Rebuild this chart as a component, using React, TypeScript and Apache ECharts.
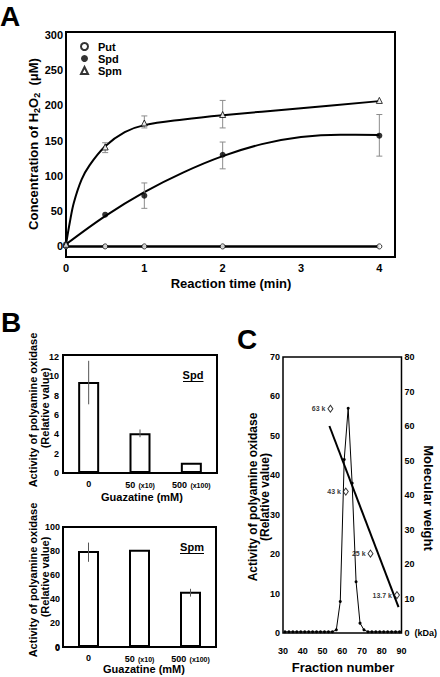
import React, { useEffect, useRef } from 'react';
import * as echarts from 'echarts';

// ---------- Panel A data ----------
const reactionTimes = [0, 0.5, 1, 2, 4];
const putValues = [0, 0, 0, 0, 0];
const spdValues = [3, 45, 72, 130, 157];
const spdErrLow = [NaN, NaN, 54, 110, 128];
const spdErrHigh = [NaN, NaN, 90, 148, 187];
const spmValues = [3, 141, 175, 187, 207];
const spmErrLow = [NaN, 133, 168, 168, NaN];
const spmErrHigh = [NaN, 147, 185, 207, NaN];
const spdFitTimes = [0, 0.5, 1, 1.5, 2, 2.5, 3, 3.5, 4];
const spdFitValues = [3, 43, 77, 105, 128, 145, 155, 158.5, 158];
const spmFitTimes = [0, 0.05, 0.1, 0.2, 0.3, 0.5, 0.75, 1, 1.5, 2, 3, 4];
const spmFitValues = [3, 35, 62, 95, 115, 142, 162, 172, 180, 186, 196, 206];
const timeTicks = [0, 1, 2, 3, 4];
const concTicks = [0, 50, 100, 150, 200, 250, 300];

// ---------- Panel B data ----------
const guazatineDoses = ['0', '50', '500'];
const doseMultipliers = ['', '(x10)', '(x100)'];
const spdActivity = [9.4, 4.1, 1.05];
const spdActLow = [7.1, 3.7, NaN];
const spdActHigh = [11.6, 4.5, NaN];
const spmActivity = [80, 81, 46];
const spmActLow = [71, NaN, 42];
const spmActHigh = [87, NaN, 48.5];
const spdActStep = 2;
const spmActStep = 20;

// ---------- Panel C data ----------
const fractionNumbers = [31, 33, 35, 37, 39, 41, 43, 45, 47, 49, 51, 53, 55, 57, 59, 61, 63, 65, 67, 69, 71, 73, 75, 77, 79, 81, 83, 85, 87, 89];
const fractionActivity = [0.3, 0.3, 0.3, 0.3, 0.3, 0.3, 0.3, 0.3, 0.3, 0.3, 0.3, 0.3, 0.3, 0.8, 8, 44, 57, 38, 13, 2.5, 0.8, 0.3, 0.3, 0.3, 0.3, 0.3, 0.3, 0.3, 0.3, 0.3];
const mwLineFractions = [53.5, 88.5];
const mwLineValues = [60, 7.5];
const standardNames = ['63 k', '43 k', '25 k', '13.7 k'];
const standardFractions = [54, 61.8, 74.3, 87.7];
const standardMW = [65, 41, 23, 11];

const FONT = 'Liberation Sans, Arial, Helvetica, sans-serif';

const errRender = (capHalf: number, color: string) => (params: any, api: any) => {
  const x = api.value(0);
  const p1 = api.coord([x, api.value(1)]);
  const p2 = api.coord([x, api.value(2)]);
  const st = { stroke: color, lineWidth: 1 };
  return {
    type: 'group',
    children: [
      { type: 'line', shape: { x1: p1[0], y1: p1[1], x2: p2[0], y2: p2[1] }, style: st },
      { type: 'line', shape: { x1: p1[0] - capHalf, y1: p1[1], x2: p1[0] + capHalf, y2: p1[1] }, style: st },
      { type: 'line', shape: { x1: p2[0] - capHalf, y1: p2[1], x2: p2[0] + capHalf, y2: p2[1] }, style: st },
    ],
  };
};

const gtext = (text: string, x: number, y: number, size: number, rotation = 0, extra: any = {}) => ({
  type: 'text',
  x,
  y,
  rotation,
  style: {
    text,
    fill: '#000',
    fontFamily: FONT,
    fontWeight: 'bold',
    fontSize: size,
    align: 'center',
    verticalAlign: 'middle',
    textAlign: 'center',
    textVerticalAlign: 'middle',
    ...extra,
  },
});

export default function App() {
  const ref = useRef<HTMLDivElement>(null);
  useEffect(() => {
    if (!ref.current) return;
    const chart = echarts.init(ref.current, undefined, { renderer: 'svg' });

    const labelBase = { color: '#000', fontFamily: FONT, fontWeight: 'bold' as const };
    const hiddenAxis = {
      axisLine: { show: false, onZero: false },
      axisTick: { show: false },
      splitLine: { show: false },
    };

    const bLabel = {
      ...labelBase,
      margin: 6,
      interval: 0,
      hideOverlap: false,
      formatter: (v: string, i: number) =>
        doseMultipliers[i] ? `{m|${v}} {s|${doseMultipliers[i]}}` : `{m|${v}}`,
      rich: {
        m: { fontSize: 9, fontWeight: 'bold', fontFamily: FONT, color: '#000' },
        s: { fontSize: 7, fontWeight: 'bold', fontFamily: FONT, color: '#000' },
      },
    };

    const option: any = {
      animation: false,
      textStyle: { fontFamily: FONT, color: '#000' },
      grid: [
        { left: 66, top: 32, width: 329, height: 225, show: true, borderColor: '#000', borderWidth: 2 },
        { left: 63, top: 355, width: 154, height: 118, show: true, borderColor: '#000', borderWidth: 2 },
        { left: 63, top: 527, width: 153, height: 120, show: true, borderColor: '#000', borderWidth: 2 },
        { left: 283, top: 357, width: 120, height: 276, show: true, borderColor: '#000', borderWidth: 1.5 },
      ],
      legend: {
        data: ['Put', 'Spd', 'Spm'],
        orient: 'vertical',
        left: 80,
        top: 41,
        itemWidth: 7,
        itemHeight: 7,
        itemGap: 1,
        padding: 0,
        textStyle: { color: '#000', fontFamily: FONT, fontWeight: 'bold', fontSize: 11, padding: [0, 0, 0, 5] },
      },
      xAxis: [
        {
          type: 'value', gridIndex: 0, min: 0, max: 4.2, ...hiddenAxis,
          axisLabel: { ...labelBase, fontSize: 11, margin: 5, customValues: timeTicks },
        },
        {
          type: 'category', gridIndex: 1, data: guazatineDoses, ...hiddenAxis,
          axisLabel: bLabel,
        },
        {
          type: 'category', gridIndex: 2, data: guazatineDoses, ...hiddenAxis,
          axisLabel: bLabel,
        },
        {
          type: 'value', gridIndex: 3, min: 30, max: 90, interval: 10, ...hiddenAxis,
          axisLabel: { ...labelBase, fontSize: 9, margin: 13 },
        },
      ],
      yAxis: [
        {
          type: 'value', gridIndex: 0, min: -15, max: 304, ...hiddenAxis,
          axisLabel: { ...labelBase, fontSize: 11, margin: 3, customValues: concTicks },
        },
        {
          type: 'value', gridIndex: 1, min: 0, max: 12.2, interval: spdActStep, ...hiddenAxis,
          axisLabel: {
            ...labelBase, fontSize: 9, margin: 4, showMinLabel: true,
            formatter: (v: number) => (Math.abs(v % spdActStep) < 1e-6 ? String(v) : ''),
          },
        },
        {
          type: 'value', gridIndex: 2, min: 0, max: 100, interval: spmActStep, ...hiddenAxis,
          axisLabel: { ...labelBase, fontSize: 9, margin: 3, showMinLabel: true },
        },
        {
          type: 'value', gridIndex: 3, min: 0, max: 70, interval: 10, ...hiddenAxis,
          axisLabel: { ...labelBase, fontSize: 9, margin: 3 },
        },
        {
          type: 'value', gridIndex: 3, position: 'right', min: 0, max: 80, interval: 10, ...hiddenAxis,
          axisLabel: {
            ...labelBase, fontSize: 9, margin: 3,
            formatter: (v: number) => (v === 0 ? '0  (kDa)' : String(v)),
          },
        },
      ],
      series: [
        // ---- Panel A curves
        {
          type: 'line', xAxisIndex: 0, yAxisIndex: 0, name: 'Put line', showSymbol: false, symbol: 'none',
          data: reactionTimes.map((t, i) => [t, putValues[i]]),
          lineStyle: { color: '#000', width: 2.5 }, z: 2,
        },
        {
          type: 'line', xAxisIndex: 0, yAxisIndex: 0, name: 'Spd fit', showSymbol: false, symbol: 'none', smooth: 0.35,
          data: spdFitTimes.map((t, i) => [t, spdFitValues[i]]),
          lineStyle: { color: '#000', width: 2 }, z: 2,
        },
        {
          type: 'line', xAxisIndex: 0, yAxisIndex: 0, name: 'Spm fit', showSymbol: false, symbol: 'none', smooth: 0.35,
          data: spmFitTimes.map((t, i) => [t, spmFitValues[i]]),
          lineStyle: { color: '#000', width: 2 }, z: 2,
        },
        {
          type: 'custom', xAxisIndex: 0, yAxisIndex: 0, name: 'Spd err',
          renderItem: errRender(3, '#8c8c8c'), encode: { x: 0, y: [1, 2] }, z: 3,
          data: reactionTimes.map((t, i) => [t, spdErrLow[i], spdErrHigh[i]]).filter((r) => !isNaN(r[1])),
        },
        {
          type: 'custom', xAxisIndex: 0, yAxisIndex: 0, name: 'Spm err',
          renderItem: errRender(3, '#8c8c8c'), encode: { x: 0, y: [1, 2] }, z: 3,
          data: reactionTimes.map((t, i) => [t, spmErrLow[i], spmErrHigh[i]]).filter((r) => !isNaN(r[1])),
        },
        {
          type: 'scatter', xAxisIndex: 0, yAxisIndex: 0, name: 'Put', symbol: 'circle', symbolSize: 5,
          data: reactionTimes.map((t, i) => [t, putValues[i]]),
          itemStyle: { color: '#fff', borderColor: '#000', borderWidth: 1 }, z: 5,
        },
        {
          type: 'scatter', xAxisIndex: 0, yAxisIndex: 0, name: 'Spd', symbol: 'circle', symbolSize: 6,
          data: reactionTimes.map((t, i) => [t, spdValues[i]]),
          itemStyle: { color: '#000' }, z: 5,
        },
        {
          type: 'scatter', xAxisIndex: 0, yAxisIndex: 0, name: 'Spm', symbol: 'triangle', symbolSize: 6,
          data: reactionTimes.map((t, i) => [t, spmValues[i]]),
          itemStyle: { color: '#fff', borderColor: '#000', borderWidth: 1 }, z: 5,
        },
        // ---- Panel B
        {
          type: 'bar', xAxisIndex: 1, yAxisIndex: 1, name: 'Spd activity', barWidth: 21,
          data: spdActivity,
          itemStyle: { color: '#fff', borderColor: '#000', borderWidth: 2 },
        },
        {
          type: 'custom', xAxisIndex: 1, yAxisIndex: 1, name: 'Spd activity err',
          renderItem: errRender(0, '#555'), encode: { x: 0, y: [1, 2] }, z: 3,
          data: guazatineDoses.map((d, i) => [i, spdActLow[i], spdActHigh[i]]).filter((r) => !isNaN(r[1] as number)),
        },
        {
          type: 'bar', xAxisIndex: 2, yAxisIndex: 2, name: 'Spm activity', barWidth: 21,
          data: spmActivity,
          itemStyle: { color: '#fff', borderColor: '#000', borderWidth: 2 },
        },
        {
          type: 'custom', xAxisIndex: 2, yAxisIndex: 2, name: 'Spm activity err',
          renderItem: errRender(0, '#555'), encode: { x: 0, y: [1, 2] }, z: 3,
          data: guazatineDoses.map((d, i) => [i, spmActLow[i], spmActHigh[i]]).filter((r) => !isNaN(r[1] as number)),
        },
        // ---- Panel C
        {
          type: 'line', xAxisIndex: 3, yAxisIndex: 3, name: 'Activity', symbol: 'circle', symbolSize: 3,
          data: fractionNumbers.map((f, i) => [f, fractionActivity[i]]),
          lineStyle: { color: '#000', width: 1 }, itemStyle: { color: '#000' }, z: 3,
        },
        {
          type: 'line', xAxisIndex: 3, yAxisIndex: 4, name: 'MW', symbol: 'none',
          data: mwLineFractions.map((f, i) => [f, mwLineValues[i]]),
          lineStyle: { color: '#000', width: 2 }, z: 3,
        },
        {
          type: 'scatter', xAxisIndex: 3, yAxisIndex: 4, name: 'Standards', symbol: 'diamond', symbolSize: [5, 7],
          data: standardNames.map((n, i) => ({ name: n, value: [standardFractions[i], standardMW[i]] })),
          itemStyle: { color: '#fff', borderColor: '#000', borderWidth: 1 },
          label: {
            show: true, position: 'left', distance: 2, formatter: '{b}',
            fontSize: 7, fontWeight: 'bold', fontFamily: FONT, color: '#000',
          },
          z: 4,
        },
      ],
      graphic: [
        gtext('A', 0, 16, 28, 0, { align: 'left', textAlign: 'left' }),
        gtext('B', 1, 322, 28, 0, { align: 'left', textAlign: 'left' }),
        gtext('C', 237, 339, 28, 0, { align: 'left', textAlign: 'left' }),
        // Panel A titles
        gtext('Reaction time (min)', 231, 283, 13),
        {
          type: 'text', x: 33, y: 144, rotation: Math.PI / 2,
          style: {
            text: '{n|Concentration of H}{sub|2}{n|O}{sub|2}{n|  (μM)}',
            align: 'center', verticalAlign: 'middle', textAlign: 'center', textVerticalAlign: 'middle',
            fill: '#000',
            rich: {
              n: { fontSize: 13, fontWeight: 'bold', fontFamily: FONT, fill: '#000', color: '#000', lineHeight: 16 },
              sub: { fontSize: 9, fontWeight: 'bold', fontFamily: FONT, fill: '#000', color: '#000', lineHeight: 16, verticalAlign: 'bottom' },
            },
          },
        },
        // Panel B titles and the lower panel's zero label
        gtext('0', 60, 648, 9, 0, { align: 'right', textAlign: 'right' }),
        gtext('Activity of polyamine oxidase', 32.5, 410, 11, Math.PI / 2),
        gtext('(Relative value)', 45, 408, 11, Math.PI / 2),
        gtext('Guazatine (mM)', 142, 497, 11),
        gtext('Activity of polyamine oxidase', 32.5, 580, 11, Math.PI / 2),
        gtext('(Relative value)', 45, 577, 11, Math.PI / 2),
        gtext('Guazatine (mM)', 144, 669, 11),
        gtext('Spd', 193, 375, 11),
        { type: 'line', shape: { x1: 183, y1: 381.5, x2: 203.5, y2: 381.5 }, style: { stroke: '#000', lineWidth: 1 } },
        gtext('Spm', 192, 547, 11),
        { type: 'line', shape: { x1: 180, y1: 553.5, x2: 204, y2: 553.5 }, style: { stroke: '#000', lineWidth: 1 } },
        // Panel C titles
        gtext('Activity of polyamine oxidase', 252.5, 497, 12, Math.PI / 2),
        gtext('(Relative value)', 265, 497, 12, Math.PI / 2),
        gtext('Molecular weight', 428, 498, 13, -Math.PI / 2),
        gtext('Fraction number', 343, 667, 13),
      ],
    };

    chart.setOption(option);
    return () => chart.dispose();
  }, []);

  return (
    <div
      ref={ref}
      style={{ position: 'absolute', left: 0, top: 0, width: 440, height: 677, background: '#fff' }}
    />
  );
}
